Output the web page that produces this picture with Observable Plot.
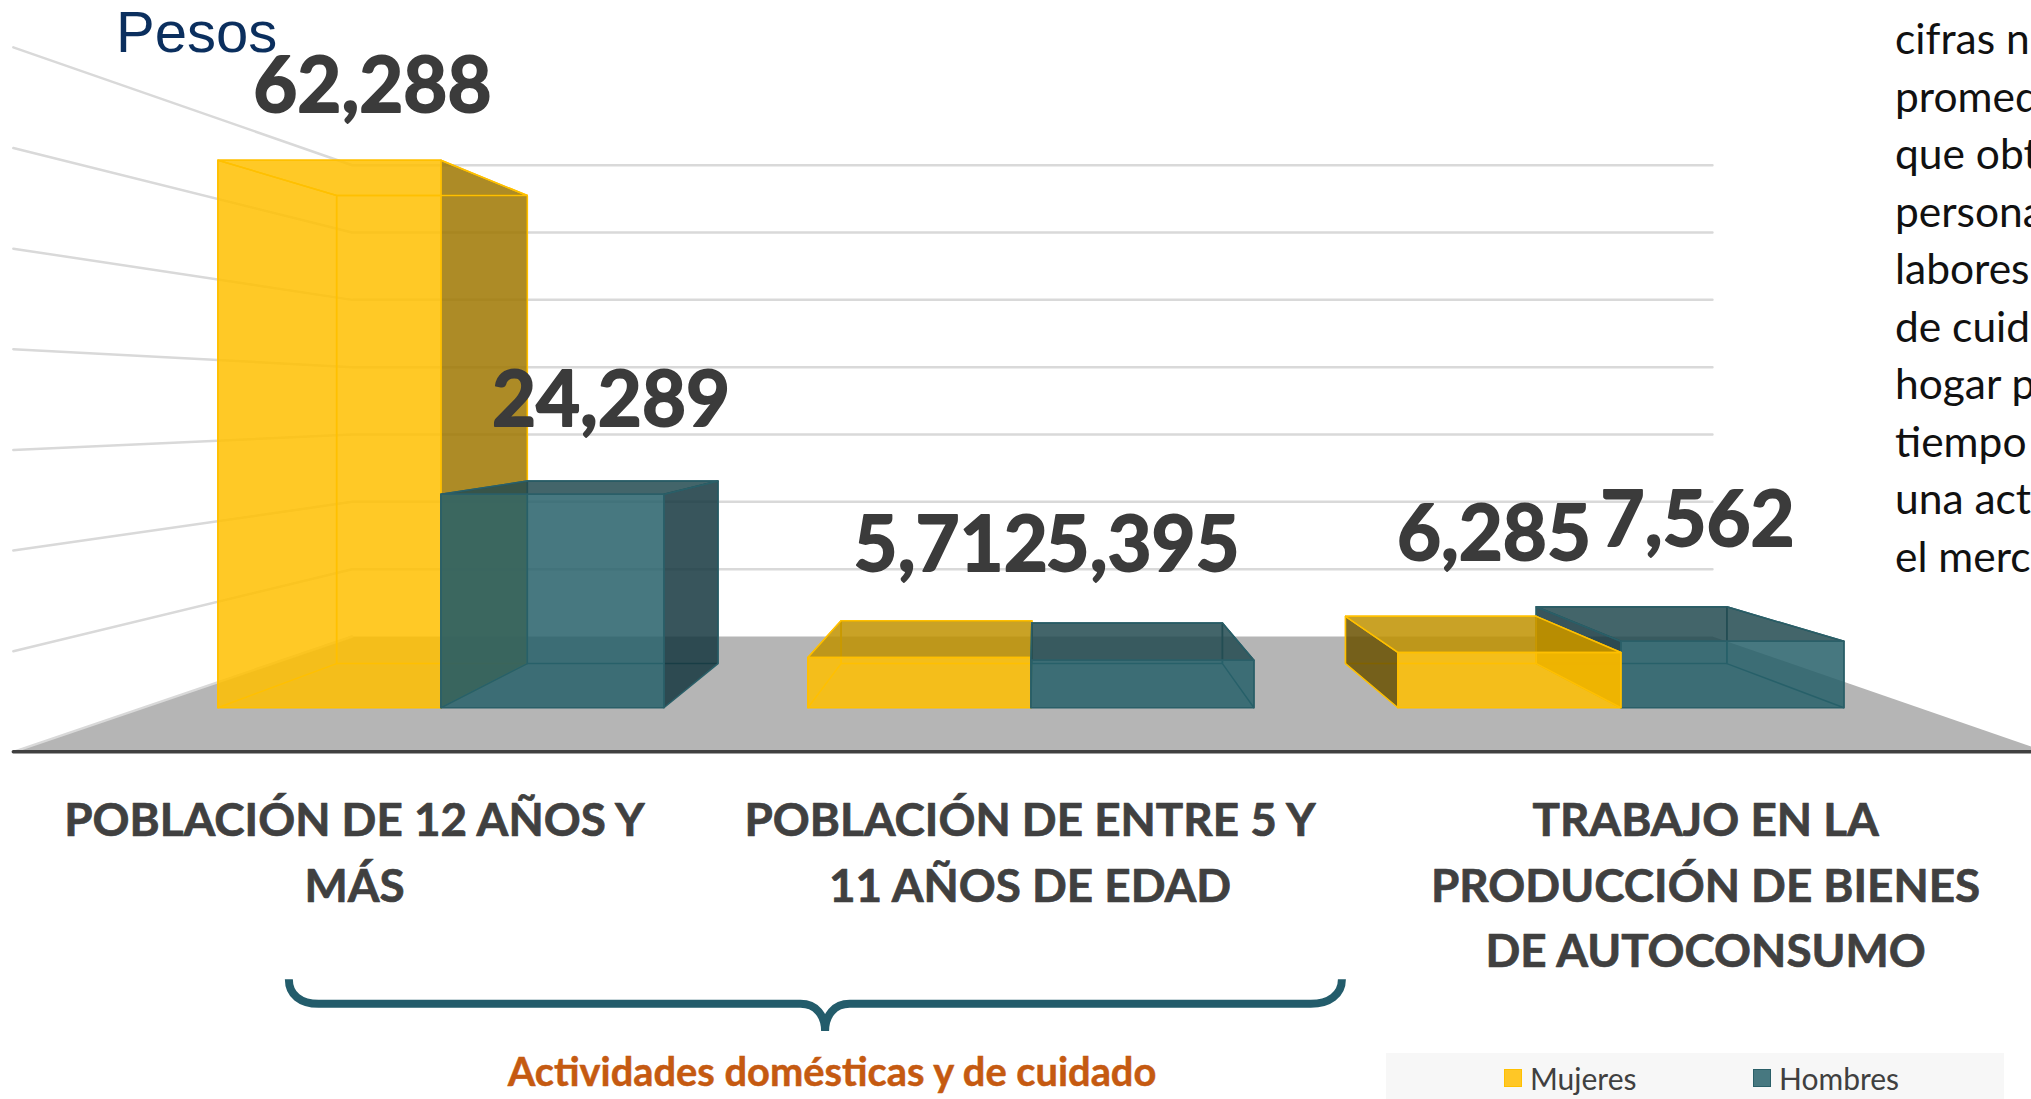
<!DOCTYPE html>
<html lang="es">
<head>
<meta charset="utf-8">
<script src="https://cdn.jsdelivr.net/npm/d3@7"></script>
<script src="https://cdn.jsdelivr.net/npm/@observablehq/plot@0.6"></script>
<style>
  html,body{margin:0;padding:0;background:#fff;overflow:hidden}
  #stage{position:relative;width:2031px;height:1099px;overflow:hidden;font-family:Lato,sans-serif;font-variant-ligatures:none}
  #stage svg{display:block;position:absolute;left:0;top:0;background:transparent;font-variant-ligatures:none}
  .abs{position:absolute;white-space:nowrap}
  #pesos{left:116px;top:-1px;font:58px/66px "Liberation Sans",sans-serif;color:#0B2F5E}
  #note{left:1895px;top:9px;font:42.5px/57.5px Lato,sans-serif;color:#111}
  #bracelabel{left:832px;top:1049px;transform:translateX(-50%);font:bold 39.8px/44px Lato,sans-serif;color:#C55A11;-webkit-text-stroke:0.5px #C55A11}
  #legend{left:1386px;top:1053px;width:618px;height:46px;background:#F7F7F7}
  .sw{position:absolute;top:16px;width:18px;height:18px;border:1.5px solid;box-sizing:border-box}
  .lt{position:absolute;top:7px;font:30px/36px Lato,sans-serif;color:#404040}
</style>
</head>
<body>
<div id="stage">
  <div id="chart"></div>
  <div class="abs" id="pesos">Pesos</div>
  <div class="abs" id="note"></div>
  <div class="abs" id="bracelabel">Actividades domésticas y de cuidado</div>
  <div class="abs" id="legend"></div>
</div>
<script>
// ---- data ----
const categories = [
  "POBLACIÓN DE 12 AÑOS Y\nMÁS",
  "POBLACIÓN DE ENTRE 5 Y\n11 AÑOS DE EDAD",
  "TRABAJO EN LA\nPRODUCCIÓN DE BIENES\nDE AUTOCONSUMO"
];
const mujeres = [62288, 5712, 6285];
const hombres = [24289, 5395, 7562];
const seriesNames = ["Mujeres", "Hombres"];
const yTicks = [0, 10000, 20000, 30000, 40000, 50000, 60000, 70000];
const noteLines = ["cifras n", "promed", "que obt", "persona", "labores", "de cuid", "hogar p", "tiempo", "una act", "el merc"];

// ---- layout / perspective (front plane of the bars is depth 1) ----
const K = 2031 / 1568;
const barW = 0.378;
const vp = {x: 1.01, v: 34632};
const depth = {floorFront: 1.145, barRear: 0.855, wall: 0.766};
const walls = {left: -0.505, right: 2.505};
const project = (x, v, s) => ({x: vp.x + (x - vp.x) * s, v: vp.v + (v - vp.v) * s});

const style = {
  Mujeres: {front: "#FFC000", right: "#9F7700", rightInside: "#9F7700", left: "#6A5100", top: "#C09200", stroke: "#FFC000"},
  Hombres: {front: "#27606A", right: "#15373F", rightInside: "none", left: "#15373F", top: "#224A50", stroke: "#2A5F68"}
};
// label offsets from the bar's rear-top centre, in shrunk px
const labelNudge = {
  Mujeres: [[-46, -83], [11, -57], [41, -62]],
  Hombres: [[-9, -61], [12, -59], [51, -66]]
};

// ---- bars → faces ----
const bars = [];
categories.forEach((c, i) => {
  bars.push({i, name: "Mujeres", value: mujeres[i], x0: i - barW, x1: i});
  bars.push({i, name: "Hombres", value: hombres[i], x0: i, x1: i + barW});
});
bars.sort((a, b) => Math.abs((b.x0 + b.x1) / 2 - vp.x) - Math.abs((a.x0 + a.x1) / 2 - vp.x));

const faces = [];
function addFace(id, corners, fill, stroke) {
  corners.forEach(([x, v, s]) => {
    const p = project(x, v, s);
    faces.push({id, x: p.x, v: p.v, fill, stroke});
  });
}
bars.forEach((b, n) => {
  const st = style[b.name], r = depth.barRear, {x0, x1, value: h} = b;
  addFace(n + "back", [[x0,0,r],[x1,0,r],[x1,h,r],[x0,h,r]], "none", st.stroke);
  const leftVisible = project(x0, 0, r).x < x0;
  const rightOutside = project(x1, 0, r).x > x1;
  addFace(n + "left", [[x0,0,1],[x0,0,r],[x0,h,r],[x0,h,1]], leftVisible ? st.left : "none", st.stroke);
  addFace(n + "right", [[x1,0,1],[x1,0,r],[x1,h,r],[x1,h,1]], rightOutside ? st.right : st.rightInside, st.stroke);
  addFace(n + "top", [[x0,h,1],[x1,h,1],[x1,h,r],[x0,h,r]], h < vp.v ? st.top : "none", st.stroke);
  addFace(n + "front", [[x0,0,1],[x1,0,1],[x1,h,1],[x0,h,1]], st.front, st.stroke);
});

// ---- walls and floor ----
const f = depth.floorFront, w = depth.wall;
const floorPts = [[walls.left,0,f],[walls.left,0,w],[walls.right,0,w],[walls.right,0,f]]
  .map(([x,v,s]) => { const p = project(x,v,s); return {x:p.x, v:p.v}; });
const gridPts = yTicks.slice(1).flatMap(t => [
  {t, ...project(walls.left, t, f)},
  {t, ...project(walls.left, t, w)},
  {t, ...project(walls.right, t, w)}
]).concat(
  [{t:0, ...project(walls.left,0,f)}, {t:0, ...project(walls.left,0,w)}]
);
const axisPts = [project(walls.left,0,f), project(walls.right,0,f)];

const labelRows = bars.map(b => {
  const c = project((b.x0 + b.x1) / 2, b.value, depth.barRear);
  const nudge = labelNudge[b.name][b.i];
  return {...c, text: d3.format(",")(b.value), dx: nudge[0] * K, dy: nudge[1] * K};
});
const catRows = categories.map((text, i) => ({text, ...project(i, 0, f)}));

const brace = (index, scales, values, dims) => {
  const p = d3.path(), k = K;
  p.moveTo(223*k,756*k);
  p.bezierCurveTo(223*k,768*k,232*k,775*k,246*k,775*k);
  p.lineTo(618*k,775*k);
  p.bezierCurveTo(630*k,775*k,637*k,784*k,637*k,796*k);
  p.bezierCurveTo(637*k,784*k,644*k,775*k,656*k,775*k);
  p.lineTo(1012*k,775*k);
  p.bezierCurveTo(1026*k,775*k,1036*k,768*k,1036*k,756*k);
  const el = document.createElementNS("http://www.w3.org/2000/svg","path");
  el.setAttribute("d", p.toString());
  el.setAttribute("fill","none");
  el.setAttribute("stroke","#235C6B");
  el.setAttribute("stroke-width","8");
  return el;
};

const chart = Plot.plot({
  width: 2031, height: 1099,
  marginTop: 0, marginRight: 0, marginBottom: 0, marginLeft: 0,
  x: {domain: [0, 2], range: [340 * K, 1251 * K], axis: null},
  y: {domain: [0, 70000], range: [546 * K, 71 * K], axis: null},
  color: {type: "identity"},
  marks: [
    Plot.line(floorPts, {x: "x", y: "v", fill: "#B5B5B5", stroke: "none", curve: "linear-closed"}),
    Plot.line(gridPts, {x: "x", y: "v", z: "t", stroke: "#D9D9D9", strokeWidth: 2.5}),
    Plot.line(axisPts, {x: "x", y: "v", stroke: "#404040", strokeWidth: 3.5}),
    Plot.line(faces, {x: "x", y: "v", z: "id", fill: "fill", stroke: "stroke", strokeWidth: 1.5,
      fillOpacity: 0.85, curve: "linear-closed"}),
    ...labelRows.map(d => Plot.text([d], {x: "x", y: "v", text: "text", dx: d.dx, dy: d.dy,
      fontFamily: "Lato", fontWeight: "bold", fontSize: 76, fill: "#3B3B3B",
      stroke: "#3B3B3B", strokeWidth: 1.8})),
    Plot.text(catRows, {x: "x", y: "v", text: "text", dy: 38, lineAnchor: "top", lineHeight: 1.43,
      fontFamily: "Lato", fontWeight: "bold", fontSize: 45.8, fill: "#404040",
      stroke: "#404040", strokeWidth: 0.7}),
    brace
  ]
});
document.getElementById("chart").append(chart);

document.getElementById("note").innerHTML = noteLines.join("<br>");
const lg = document.getElementById("legend");
[[ "#FFC726", "#FFC000", 118 ], [ "#477880", "#2A5F68", 367 ]].forEach(([bg, bd, left], i) => {
  const s = document.createElement("div");
  s.className = "sw"; s.style.cssText = `left:${left}px;background:${bg};border-color:${bd}`;
  const t = document.createElement("div");
  t.className = "lt"; t.style.left = (left + 26) + "px"; t.textContent = seriesNames[i];
  lg.append(s, t);
});
</script>
</body>
</html>
